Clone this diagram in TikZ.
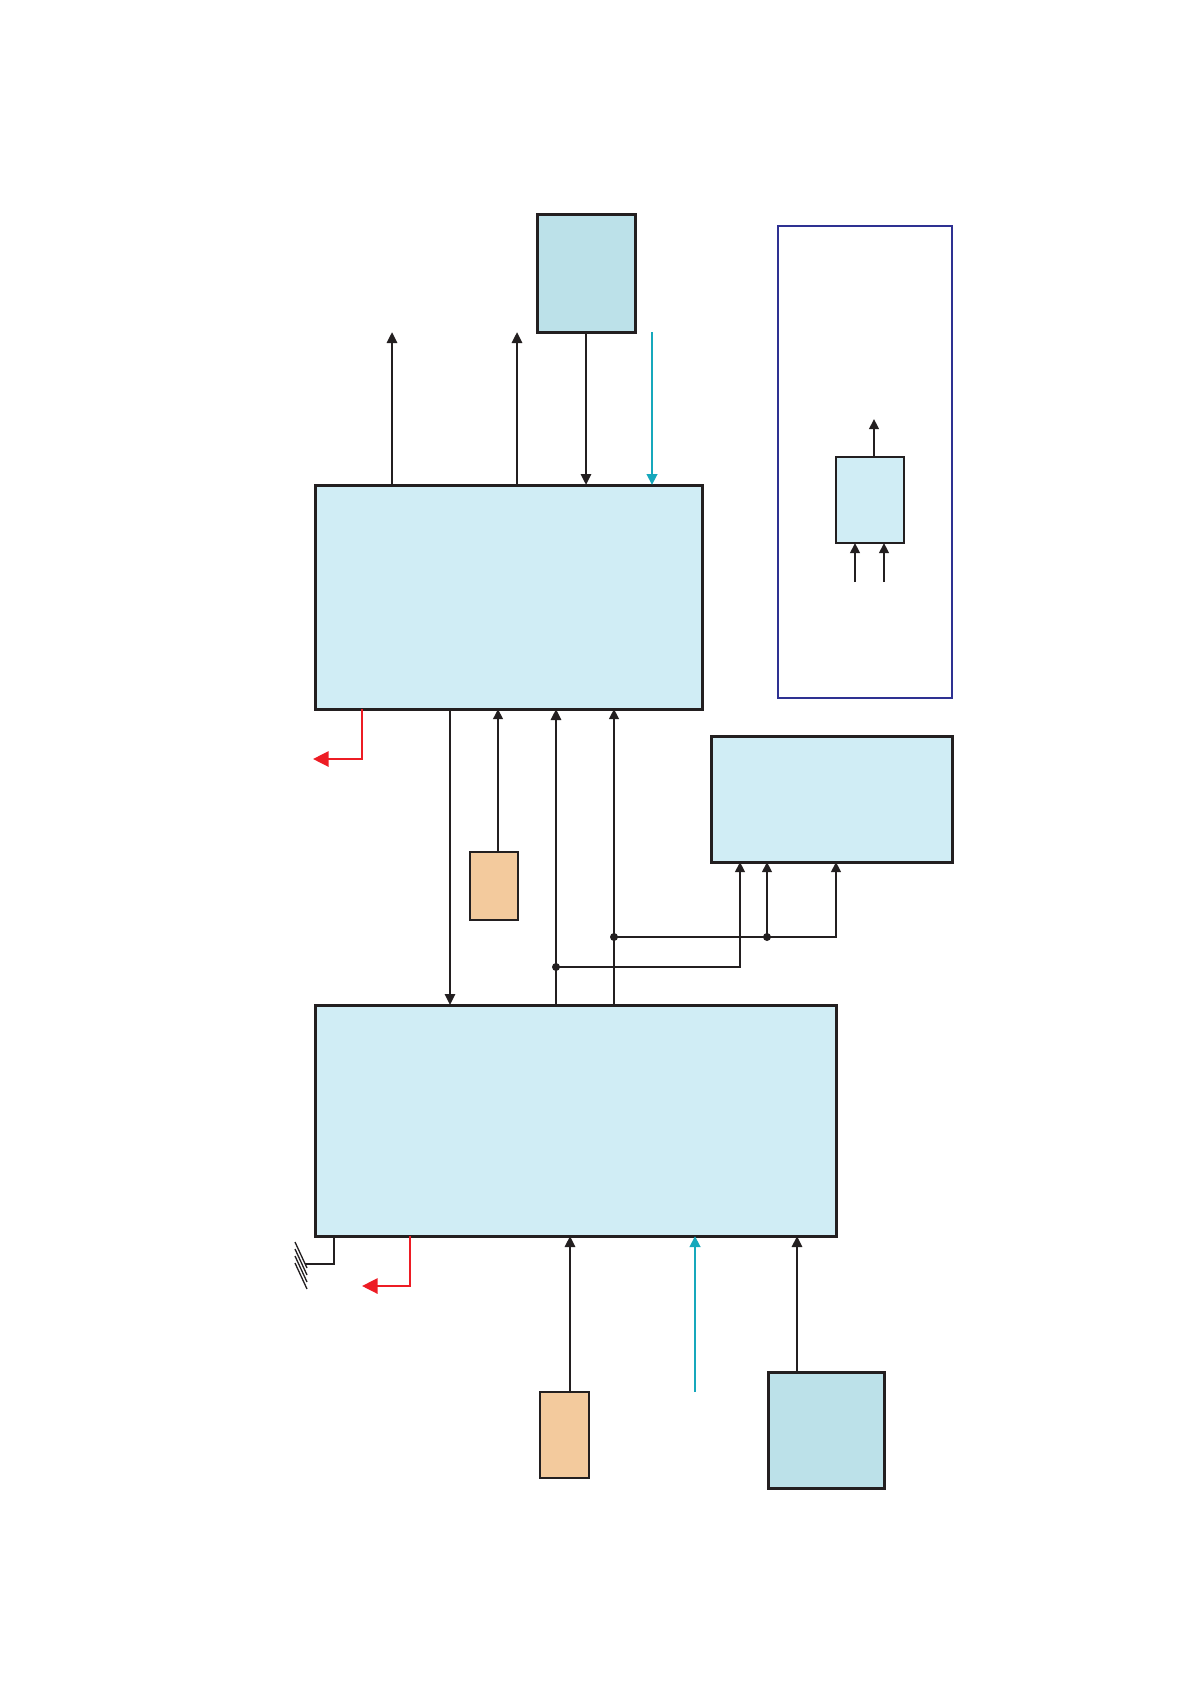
\documentclass[tikz,border=0pt]{standalone}
\usepackage{tikz}
\usetikzlibrary{arrows.meta}

\definecolor{boxblue}{RGB}{208,237,245}
\definecolor{srcblue}{RGB}{188,225,233}
\definecolor{xtal}{RGB}{243,202,157}
\definecolor{sigcyan}{RGB}{22,168,188}
\definecolor{alarmred}{RGB}{237,28,36}
\definecolor{framenavy}{RGB}{46,49,146}
\definecolor{ink}{RGB}{35,31,32}

\tikzset{
    blk/.style={draw=ink, line width=1.5pt, inner sep=0pt, outer sep=0pt},
    wire/.style={draw=ink, line width=0.8pt},
    arr/.style={draw=ink, line width=1.3pt, -{Triangle[length=5.5pt,width=5pt]}},
    arrthin/.style={draw=ink, line width=0.9pt, -{Triangle[length=5pt,width=4.8pt]}},
    cyanarr/.style={draw=sigcyan, line width=1.4pt, -{Triangle[length=5.5pt,width=5.2pt]}},
    redarr/.style={draw=alarmred, line width=1.2pt, -{Triangle[length=7.8pt,width=7.6pt]}},
}

\begin{document}
\begin{tikzpicture}[x=0.5pt,y=0.5pt,yscale=-1,xscale=1]
    \useasboundingbox (0,0) rectangle (1193,1685);

    %Shape: Rectangle
    \node[blk, fill=srcblue, minimum width=49pt, minimum height=58.5pt] (topbox) at (586,273.5) {};
    %Shape: Rectangle
    \node[blk, fill=boxblue, minimum width=193.5pt, minimum height=112pt] (ctrl) at (508.5,597) {};
    %Shape: Rectangle
    \node[blk, fill=boxblue, minimum width=260.5pt, minimum height=115.5pt] (proc) at (575.5,1120.5) {};
    %Shape: Rectangle
    \node[blk, fill=boxblue, minimum width=120.5pt, minimum height=63pt] (side) at (831.5,799) {};
    %Shape: Rectangle
    \node[draw=framenavy, line width=1.1pt, inner sep=0pt, outer sep=0pt, minimum width=87pt, minimum height=236pt] (frame) at (865,462) {};
    %Shape: Rectangle
    \node[blk, line width=1.2pt, fill=boxblue, minimum width=34pt, minimum height=43pt] (inner) at (870,500) {};
    %Shape: Rectangle
    \node[blk, line width=1.2pt, fill=xtal, minimum width=24pt, minimum height=34pt] (osc1) at (494,886) {};
    %Shape: Rectangle
    \node[blk, line width=1.2pt, fill=xtal, minimum width=24.5pt, minimum height=43pt] (osc2) at (564.5,1435) {};
    %Shape: Rectangle
    \node[blk, fill=srcblue, minimum width=58pt, minimum height=58pt] (src) at (826,1430) {};

    % free ends and junctions
    \coordinate (outA) at (392,332);
    \coordinate (outB) at (517,332);
    \coordinate (clkA) at (652,332);
    \coordinate (almAtap) at (362,709);
    \coordinate (almA) at (313,759);
    \coordinate (link) at (450,709);
    \coordinate (x1) at (498,852);
    \coordinate (jA) at (556,967);
    \coordinate (jB) at (614,937);
    \coordinate (jC) at (767,937);
    \coordinate (sA) at (740,862);
    \coordinate (sC) at (836,862);
    \coordinate (innerOut) at (874,419);
    \coordinate (inA) at (855,582);
    \coordinate (inB) at (884,582);
    \coordinate (gtap) at (334,1236);
    \coordinate (gnd) at (305,1264);
    \coordinate (almBtap) at (410,1236);
    \coordinate (almB) at (362,1286);
    \coordinate (x2) at (570,1392);
    \coordinate (clkB) at (695,1392);
    \coordinate (s2) at (797,1372);

    %Straight Lines
    \draw[arr] (outA |- ctrl.north) -- (outA);
    \draw[arr] (outB |- ctrl.north) -- (outB);
    \draw[arr] (topbox.south) -- (topbox.south |- ctrl.north);
    \draw[cyanarr] (clkA) -- (clkA |- ctrl.north);
    \draw[redarr] (almAtap) |- (almA);

    %Straight Lines
    \draw[arr] (link) -- (link |- proc.north);
    \draw[wire, -{Triangle[length=5pt,width=4.8pt]}] (x1) -- (x1 |- ctrl.south);
    \draw[arr] (jA |- proc.north) -- (jA |- ctrl.south);
    \draw[arrthin, line width=1.1pt] (jB |- proc.north) -- (jB |- ctrl.south);
    \draw[arrthin] (jA) -| (sA);
    \draw[arrthin] (jB) -| (sC);
    \draw[arrthin] (jC) -- (jC |- side.south);
    \foreach \j in {jA,jB,jC}
        \fill[ink] (\j) circle (2pt);

    %Straight Lines
    \draw[arrthin] (innerOut |- inner.north) -- (innerOut);
    \draw[arrthin] (inA) -- (inA |- inner.south);
    \draw[arrthin] (inB) -- (inB |- inner.south);

    %Shape: Ground
    \draw[wire] (gtap) |- (gnd);
    \foreach \k in {0,...,3}
        \draw[wire, line width=0.65pt] (295,1242+7*\k) -- (307,1268+7*\k);
    \draw[redarr] (almBtap) |- (almB);

    %Straight Lines
    \draw[arr] (x2) -- (x2 |- proc.south);
    \draw[cyanarr] (clkB) -- (clkB |- proc.south);
    \draw[arr] (s2) -- (s2 |- proc.south);

\end{tikzpicture}
\end{document}
